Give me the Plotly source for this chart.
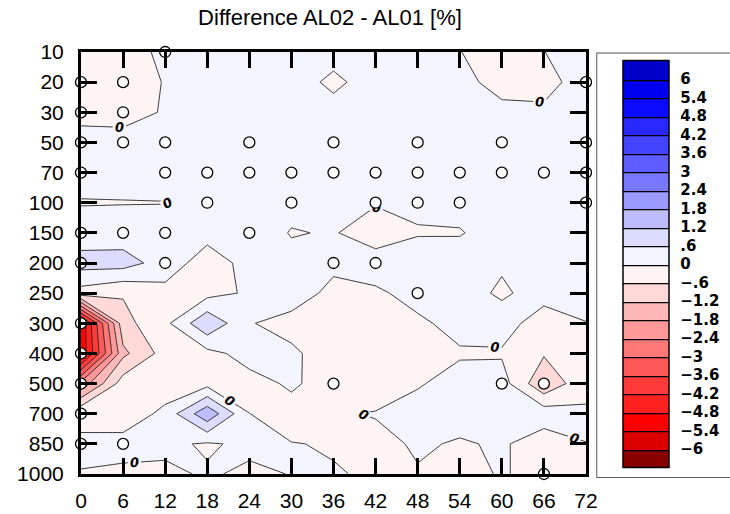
import plotly.graph_objects as go

# ---------------- data ----------------
hours = [0, 6, 12, 18, 24, 30, 36, 42, 48, 54, 60, 66, 72]
levels = ["10", "20", "30", "50", "70", "100", "150", "200", "250",
          "300", "400", "500", "700", "850", "1000"]

# difference AL02 - AL01 [%], one row per pressure level (top to bottom)
diff_10 = [-0.2, -0.2, 0.1, 0.2, 0.2, 0.2, 0.17, 0.2, 0.2, 0.01, -0.19, -0.01, 0.3]
diff_20 = [-0.25, -0.3, 0.03, 0.2, 0.2, 0.21, -0.1, 0.21, 0.2, 0.15, -0.18, -0.15, 0.2]
diff_30 = [-0.18, -0.2, 0.045, 0.2, 0.2, 0.2, 0.17, 0.2, 0.2, 0.2, 0.13, 0.077, 0.2]
diff_50 = [0.22, 0.2, 0.2, 0.2, 0.2, 0.2, 0.2, 0.2, 0.2, 0.2, 0.2, 0.2, 0.2]
diff_70 = [0.2, 0.2, 0.2, 0.2, 0.2, 0.2, 0.2, 0.2, 0.2, 0.2, 0.2, 0.2, 0.2]
diff_100 = [-0.03, -0.02, -0.01, 0.073, 0.2, 0.2, 0.2, 0.05, 0.16, 0.2, 0.2, 0.2, 0.2]
diff_150 = [0.25, 0.27, 0.2, 0.2, 0.4, -0.04, 0.05, -0.35, -0.06, -0.04, 0.27, 0.2, 0.2]
diff_200 = [0.85, 0.86, 0.33, -0.3, 0.2, 0.2, 0.2, 0.31, 0.44, 0.3, 0.065, 0.2, 0.2]
diff_250 = [-0.25, -0.55, -0.186, -0.2, 0.08, 0.45, -0.244, -0.098, 0.2, 0.216, -0.08, 0.22, 0.3]
diff_300 = [-5.3, -0.8, -0.15, 1.1, 0.05, -0.3, -0.3, -0.3, -0.1, 0.18, 0.25, -0.3, -0.02]
diff_400 = [-5.3, -1.35, -0.35, -0.18, 0.22, 0.155, -0.44, -0.3, -0.2, -0.06, -0.0625, -0.54, -0.2]
diff_500 = [-2.2, -0.3, -0.45, -0.2, -0.2, 0.08, -0.244, -0.5, -0.05, 0.21, 0.26, -1.1, -0.15]
diff_700 = [-0.05, -0.5, 0.2, 1.65, 0.005, -0.2, -0.089, 0.05, 0.213, 0.3, 0.3, 0.35, 0.07]
diff_850 = [0.03, 0.3, 0.108, -0.06, 0.1, 0.013, -0.026, -0.233, 0.1, -0.074, 0.09, -0.36, -0.005]
diff_1000 = [-0.006, -0.17, -0.09, 0.05, -0.08, 0.013, 0.02, -0.036, -0.056, -0.3, 0.075, -0.3, -0.2]

diff = [diff_10, diff_20, diff_30, diff_50, diff_70, diff_100, diff_150, diff_200,
        diff_250, diff_300, diff_400, diff_500, diff_700, diff_850, diff_1000]

# marked (circled) points
sig_hours = [12,
             0, 6, 72,
             0, 6,
             0, 6, 12, 24, 36, 48, 60, 72,
             0, 12, 18, 24, 30, 36, 42, 48, 54, 60, 66, 72,
             18, 30, 42, 48, 54, 72,
             0, 6, 12, 24,
             0, 12, 36, 42,
             48,
             0,
             0,
             0, 36, 60, 66,
             0,
             0, 6,
             66]
sig_levels = ["10",
              "20", "20", "20",
              "30", "30",
              "50", "50", "50", "50", "50", "50", "50", "50",
              "70", "70", "70", "70", "70", "70", "70", "70", "70", "70", "70", "70",
              "100", "100", "100", "100", "100", "100",
              "150", "150", "150", "150",
              "200", "200", "200", "200",
              "250",
              "300",
              "400",
              "500", "500", "500", "500",
              "700",
              "850", "850",
              "1000"]

# contour levels / colour bar
cb_values = [-6, -5.4, -4.8, -4.2, -3.6, -3, -2.4, -1.8, -1.2, -0.6, 0,
             0.6, 1.2, 1.8, 2.4, 3, 3.6, 4.2, 4.8, 5.4, 6]
cb_labels = ["\u22126", "\u22125.4", "\u22124.8", "\u22124.2", "\u22123.6", "\u22123",
             "\u22122.4", "\u22121.8", "\u22121.2", "\u2212.6", "0",
             ".6", "1.2", "1.8", "2.4", "3", "3.6", "4.2", "4.8", "5.4", "6"]
band_colors = ["#880000", "#dd0000", "#ff0000", "#ff2020", "#ff3a3a", "#ff5858",
               "#ff7878", "#ff9898", "#ffb8b8", "#ffd8d8", "#fff4f4",
               "#f4f4ff", "#dcdcff", "#bcbcff", "#9a9aff", "#7878ff", "#5c5cff",
               "#4444ff", "#2828ff", "#0a0aff", "#0000ee", "#0000cc"]

# ---------------- figure ----------------
n_b = len(band_colors)
colorscale = [[k / (n_b - 1), c] for k, c in enumerate(band_colors)]
ypos = list(range(len(levels)))
lev_start, lev_end, lev_size = cb_values[0], cb_values[-1], 0.6

fig = go.Figure()

# filled bands
fig.add_trace(go.Contour(
    x=hours, y=ypos, z=diff,
    colorscale=colorscale, zmin=-6.6, zmax=6.6, zauto=False,
    autocontour=False,
    contours=dict(start=lev_start, end=lev_end, size=lev_size,
                  coloring="fill", showlines=False),
    line=dict(width=0, smoothing=0),
    showscale=False, hoverinfo="skip"))

# negative and positive contour lines
for s, e in [(lev_start, -0.6), (0.6, lev_end)]:
    fig.add_trace(go.Contour(
        x=hours, y=ypos, z=diff, autocontour=False,
        contours=dict(start=s, end=e, size=lev_size, coloring="none"),
        line=dict(color="#222222", width=0.9, smoothing=0),
        showscale=False, hoverinfo="skip"))

# zero line with labels
fig.add_trace(go.Contour(
    x=hours, y=ypos, z=diff, autocontour=False,
    contours=dict(start=0, end=0, size=1, coloring="none", showlabels=True,
                  labelfont=dict(family="DejaVu Sans", size=13, color="black",
                                 style="italic", weight="bold")),
    line=dict(color="#222222", width=0.9, smoothing=0),
    showscale=False, hoverinfo="skip"))

# colour bar carrier (outside the visible axis ranges)
fig.add_trace(go.Contour(
    x=[500, 501], y=[500, 501], z=[[-1, 1], [1, -1]],
    colorscale=colorscale, zmin=-6.6, zmax=6.6, zauto=False,
    autocontour=False,
    contours=dict(start=lev_start, end=lev_end, size=lev_size, coloring="fill"),
    line=dict(color="black", width=1.2, smoothing=0),
    hoverinfo="skip",
    colorbar=dict(
        x=(598 - 81) / 505, xanchor="left", xpad=25,
        y=0.5 - 1 / 422, yanchor="middle", len=422, lenmode="pixels", ypad=7.5,
        thickness=46, thicknessmode="pixels",
        outlinewidth=1.5, outlinecolor="black",
        bgcolor="white", bordercolor="#555555", borderwidth=1,
        tickmode="array", tickvals=cb_values, ticktext=cb_labels,
        ticks="outside", ticklen=8, tickcolor="rgba(0,0,0,0)",
        tickfont=dict(family="DejaVu Sans", size=15, color="black", weight="bold"))))

# circled points
fig.add_trace(go.Scatter(
    x=sig_hours, y=[levels.index(l) for l in sig_levels],
    mode="markers", cliponaxis=False, hoverinfo="skip", showlegend=False,
    marker=dict(symbol="circle", size=11, color="white",
                line=dict(color="black", width=1.3))))

axis_common = dict(showline=True, linewidth=3, linecolor="black", mirror="ticks",
                   ticks="inside", ticklen=16, tickwidth=3, tickcolor="black",
                   showgrid=False, zeroline=False,
                   tickfont=dict(family="Liberation Sans, Arial", size=21, color="black"))

fig.update_layout(
    width=730, height=514, autosize=False,
    margin=dict(l=81, r=144, t=52, b=40, autoexpand=False),
    paper_bgcolor="white", plot_bgcolor="white",
    showlegend=False,
    title=dict(text="Difference AL02 - AL01 [%]", x=(330 - 81) / 505, xref="paper",
               xanchor="center", y=1 - 17 / 514, yref="container", yanchor="middle",
               font=dict(family="Liberation Sans, Arial", size=22, color="black")),
    xaxis=dict(range=[0, 72], tickmode="array", tickvals=hours,
               ticklabelstandoff=6, **axis_common),
    yaxis=dict(range=[len(levels) - 1, 0], tickmode="array", tickvals=ypos,
               ticktext=levels, ticklabelstandoff=10, **axis_common),
)

fig.write_html("out.html",
               config={"displayModeBar": False, "staticPlot": True},
               post_script="document.body.style.margin='0px';"
                           "document.body.style.padding='0px';")
